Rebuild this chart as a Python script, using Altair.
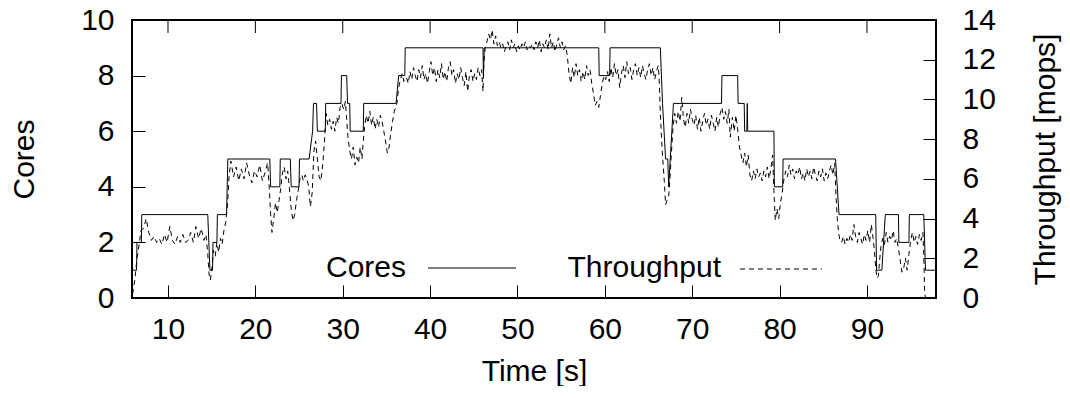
import altair as alt
import pandas as pd

# ---- data ----
cores_time = [5.9, 6.4, 6.45, 6.95, 7.0, 14.55, 14.8, 15.1, 15.15, 15.6, 15.65, 16.7, 16.85,
              21.65, 21.75, 22.8, 22.85, 24.0, 24.1, 25.0, 25.05, 26.15, 26.55, 26.65, 27.0, 27.1,
              28.0, 28.05, 29.8, 29.85, 30.45, 30.55, 30.8, 30.85, 32.35, 32.4, 36.1, 36.4, 37.1,
              37.15, 46.05, 46.1, 46.2, 59.3, 59.35, 60.55, 60.6, 66.35, 66.6, 66.95, 67.2, 67.3,
              67.85, 73.35, 73.4, 75.2, 75.25, 75.95, 76.0, 76.25, 76.3, 76.35, 79.35, 79.4, 80.35,
              80.4, 86.4, 86.8, 91.0, 91.1, 91.7, 92.1, 93.6, 93.65, 94.8, 94.85, 96.5, 96.7, 97.9]
cores_value = [1, 1, 2, 2, 3, 3, 1, 1, 2, 2, 3, 3, 5,
               5, 4, 4, 5, 5, 4, 4, 5, 5, 6, 7, 7, 6,
               6, 7, 7, 8, 8, 7, 7, 6, 6, 7, 7, 8, 8,
               9, 9, 8, 9, 9, 8, 8, 9, 9, 7, 5, 5, 4,
               7, 7, 8, 8, 7, 7, 6, 6, 7, 6, 6, 4, 4,
               5, 5, 3, 3, 1, 1, 3, 3, 2, 2, 3, 3, 1, 1]

tput_time = [5.95, 6.2, 6.45, 6.7, 6.9, 7.2, 7.5, 7.8, 8.1, 8.4, 8.7, 9.0, 9.3, 9.6, 9.9, 10.2,
             10.5, 10.8, 11.1, 11.4, 11.7, 12.0, 12.3, 12.6, 12.9, 13.2, 13.5, 13.8, 14.1, 14.35,
             14.55, 14.7, 14.85, 15.0, 15.2, 15.4, 15.6, 15.8, 16.0, 16.2, 16.4, 16.6, 16.8, 17.0,
             17.2, 17.5, 17.8, 18.1, 18.4, 18.7, 19.0, 19.3, 19.6, 19.9, 20.2, 20.5, 20.8, 21.1,
             21.4, 21.6, 21.75, 21.9, 22.1, 22.3, 22.5, 22.7, 22.9, 23.1, 23.3, 23.5, 23.7, 23.9,
             24.1, 24.3, 24.5, 24.7, 24.9, 25.1, 25.3, 25.5, 25.7, 25.9, 26.1, 26.3, 26.5, 26.7,
             26.9, 27.1, 27.3, 27.5, 27.7, 27.9, 28.1, 28.3, 28.5, 28.7, 28.9, 29.1, 29.3, 29.5,
             29.7, 29.9, 30.1, 30.3, 30.45, 30.6, 30.8, 31.0, 31.2, 31.4, 31.6, 31.8, 32.0, 32.2,
             32.35, 32.5, 32.7, 32.9, 33.1, 33.3, 33.5, 33.7, 33.9, 34.1, 34.3, 34.5, 34.7, 34.9,
             35.1, 35.3, 35.5, 35.7, 35.9, 36.2, 36.4, 36.6, 36.8, 37.0, 37.3, 37.5, 37.7, 37.9,
             38.1, 38.3, 38.5, 38.7, 38.9, 39.1, 39.3, 39.5, 39.7, 39.9, 40.1, 40.3, 40.5, 40.7,
             40.9, 41.1, 41.3, 41.5, 41.7, 41.9, 42.1, 42.3, 42.5, 42.7, 42.9, 43.1, 43.3, 43.5,
             43.7, 43.9, 44.1, 44.3, 44.5, 44.7, 44.9, 45.1, 45.3, 45.5, 45.7, 45.9, 46.05, 46.15,
             46.3, 46.5, 46.7, 46.9, 47.1, 47.3, 47.5, 47.7, 47.9, 48.1, 48.3, 48.5, 48.7, 48.9,
             49.1, 49.3, 49.5, 49.7, 49.9, 50.1, 50.3, 50.5, 50.7, 50.9, 51.1, 51.3, 51.5, 51.7,
             51.9, 52.1, 52.3, 52.5, 52.7, 52.9, 53.1, 53.3, 53.5, 53.7, 53.9, 54.1, 54.3, 54.5,
             54.7, 54.9, 55.1, 55.3, 55.5, 55.7, 55.9, 56.1, 56.3, 56.5, 56.7, 56.9, 57.1, 57.3,
             57.5, 57.7, 57.9, 58.1, 58.3, 58.5, 58.7, 58.9, 59.1, 59.3, 59.5, 59.7, 59.9, 60.1,
             60.3, 60.5, 60.7, 60.9, 61.1, 61.3, 61.5, 61.7, 61.9, 62.1, 62.3, 62.5, 62.7, 62.9,
             63.1, 63.3, 63.5, 63.7, 63.9, 64.1, 64.3, 64.5, 64.7, 64.9, 65.1, 65.3, 65.5, 65.7,
             65.9, 66.1, 66.2, 66.35, 66.55, 66.8, 66.95, 67.1, 67.3, 67.45, 67.6, 67.8, 68.0,
             68.2, 68.4, 68.6, 68.8, 69.0, 69.2, 69.4, 69.6, 69.8, 70.0, 70.2, 70.4, 70.6, 70.8,
             71.0, 71.2, 71.4, 71.6, 71.8, 72.0, 72.2, 72.4, 72.6, 72.8, 73.0, 73.2, 73.4, 73.6,
             73.8, 74.0, 74.2, 74.35, 74.6, 74.8, 75.0, 75.2, 75.4, 75.6, 75.8, 76.0, 76.2, 76.4,
             76.6, 76.8, 77.0, 77.2, 77.4, 77.6, 77.8, 78.0, 78.2, 78.4, 78.6, 78.8, 79.0, 79.2,
             79.35, 79.5, 79.7, 79.9, 80.1, 80.3, 80.5, 80.7, 80.9, 81.1, 81.3, 81.5, 81.7, 81.9,
             82.1, 82.3, 82.5, 82.7, 82.9, 83.1, 83.3, 83.5, 83.7, 83.9, 84.1, 84.3, 84.5, 84.7,
             84.9, 85.1, 85.3, 85.5, 85.7, 85.9, 86.1, 86.3, 86.45, 86.6, 86.75, 86.9, 87.1, 87.3,
             87.5, 87.7, 87.9, 88.1, 88.3, 88.5, 88.7, 88.9, 89.1, 89.3, 89.5, 89.7, 89.9, 90.1,
             90.3, 90.5, 90.7, 90.85, 91.0, 91.15, 91.3, 91.45, 91.6, 91.8, 92.0, 92.2, 92.4, 92.6,
             92.8, 93.0, 93.2, 93.4, 93.6, 93.8, 94.0, 94.2, 94.4, 94.6, 94.8, 95.0, 95.2, 95.4,
             95.6, 95.8, 96.0, 96.2, 96.4, 96.5, 96.6, 96.7, 97.9]
tput_value = [0.2, 0.9, 2.0, 2.7, 3.4, 3.5, 4.0, 3.3, 2.9, 3.1, 2.8, 3.0, 2.7, 3.2, 2.8, 3.6,
              2.9, 2.7, 3.1, 2.8, 3.2, 2.8, 2.9, 3.3, 2.8, 3.6, 3.0, 3.5, 2.9, 3.2,
              2.2, 1.2, 0.9, 1.4, 2.4, 2.1, 2.8, 2.3, 3.0, 2.7, 3.4, 3.8, 4.6, 6.2,
              6.9, 6.1, 6.6, 5.9, 6.5, 6.0, 6.8, 6.2, 5.8, 6.4, 6.1, 6.7, 5.9, 6.3,
              6.8, 5.5, 4.2, 3.3, 4.0, 4.8, 4.3, 4.9, 5.5, 6.3, 6.6, 6.0, 6.4, 5.5,
              4.5, 3.9, 4.2, 4.9, 5.4, 6.0, 6.2, 5.9, 6.2, 6.0, 5.6, 4.6, 5.3, 7.4,
              7.9, 7.0, 6.1, 5.9, 6.7, 7.8, 9.3, 8.7, 9.0, 8.5, 8.9, 8.4, 9.1, 8.8,
              9.6, 9.8, 9.5, 9.9, 9.0, 8.1, 7.4, 7.0, 7.6, 6.7, 7.1, 6.8, 7.6, 7.0,
              7.9, 8.6, 9.2, 8.8, 9.4, 8.7, 9.1, 8.5, 9.0, 8.6, 9.2, 8.9, 8.4, 7.9,
              7.3, 7.6, 8.3, 8.9, 9.4, 9.8, 10.6, 11.0, 11.3, 10.9, 11.1, 10.8, 11.4, 11.0,
              11.6, 11.2, 10.9, 11.5, 11.1, 11.7, 11.0, 11.3, 10.8, 11.4, 11.9, 11.2, 11.6, 10.9,
              11.5, 11.1, 11.8, 11.0, 11.4, 10.9, 11.6, 11.9, 11.2, 11.5, 10.8, 11.3, 11.0, 11.6,
              11.1, 10.7, 11.4, 10.4, 11.2, 11.5, 10.9, 11.3, 11.0, 11.6, 11.2, 11.5, 10.4, 11.8,
              12.6, 12.9, 13.3, 13.0, 13.5, 12.8, 13.2, 12.7, 12.9, 12.6, 12.8, 12.4, 12.7, 12.9,
              12.5, 13.0, 12.6, 12.8, 12.4, 12.7, 12.5, 12.8, 12.6, 12.9, 12.5, 12.7, 12.6, 12.8,
              12.5, 12.9, 12.6, 13.0, 12.4, 12.8, 12.6, 13.0, 12.5, 13.3, 12.6, 12.9, 12.4, 12.8,
              13.1, 12.6, 12.9, 12.5, 12.7, 12.2, 11.3, 10.8, 11.6, 11.1, 11.8, 11.2, 11.5, 10.9,
              11.4, 11.0, 11.7, 11.2, 11.5, 10.8, 10.3, 9.7, 9.9, 9.6, 10.2, 10.8, 11.2, 11.0,
              11.4, 10.9, 11.6, 11.1, 11.8, 11.2, 11.5, 10.6, 11.3, 11.7, 11.1, 11.9, 11.3, 11.6,
              11.0, 11.5, 11.8, 11.2, 11.6, 11.1, 11.7, 11.3, 11.0, 11.5, 11.8, 11.2, 11.6, 11.0,
              11.4, 11.7, 11.2, 9.3, 7.5, 5.9, 4.7, 4.9, 5.1, 6.0, 7.2, 8.6, 9.3,
              8.8, 9.4, 8.9, 10.1, 9.0, 8.6, 9.3, 8.8, 9.5, 9.0, 8.7, 9.2, 8.5, 9.1,
              8.4, 8.9, 9.3, 8.7, 9.0, 8.5, 9.2, 8.8, 8.4, 9.1, 8.6, 9.3, 9.6, 9.0,
              9.4, 8.8, 9.5, 8.1, 9.1, 8.4, 9.2, 8.5, 7.6, 7.2, 6.8, 7.3, 6.6, 7.2,
              6.2, 5.9, 6.4, 6.0, 6.5, 6.1, 6.3, 5.9, 6.4, 6.1, 6.6, 6.0, 6.5, 7.2,
              5.4, 3.9, 4.5, 4.0, 4.8, 5.3, 6.0, 6.4, 6.1, 6.7, 6.2, 6.5, 6.0, 6.4,
              6.2, 6.6, 6.0, 6.3, 5.9, 6.5, 6.1, 6.4, 6.0, 6.6, 6.2, 5.9, 6.4, 6.1,
              6.5, 5.9, 6.3, 6.0, 6.4, 6.7, 6.2, 6.8, 5.2, 4.0, 3.3, 2.9, 2.8, 3.1,
              2.7, 3.0, 2.8, 3.2, 2.9, 3.7, 3.1, 2.8, 3.3, 3.0, 2.7, 3.2, 2.9, 3.4,
              2.8, 3.7, 3.0, 2.4, 1.5, 1.0, 1.1, 1.9, 2.6, 3.0, 2.7, 3.3, 2.8, 3.1,
              2.9, 3.4, 2.8, 3.0, 2.5, 1.9, 1.3, 1.5, 2.0, 1.4, 2.2, 2.9, 3.3, 2.8,
              3.1, 2.7, 3.2, 2.9, 3.3, 2.2, 0.3, 0.0, 0.0]

x_ticks = [10, 20, 30, 40, 50, 60, 70, 80, 90]
cores_ticks = [0, 2, 4, 6, 8, 10]
tput_ticks = [0, 2, 4, 6, 8, 10, 12, 14]
legend_labels = ["Cores", "Throughput"]

FONT = "Liberation Sans"
FS = 30
X_DOMAIN = [5.88, 97.9]

cores_df = pd.DataFrame({"t": cores_time, "cores": cores_value})
tput_df = pd.DataFrame({"t": tput_time, "mops": tput_value})
tick_df = pd.DataFrame({"t": x_ticks})
leg_cores = pd.DataFrame({"label": [legend_labels[0]]})
leg_tput = pd.DataFrame({"label": [legend_labels[1]]})

xenc = alt.X("t:Q",
             scale=alt.Scale(domain=X_DOMAIN, nice=False, zero=False),
             axis=alt.Axis(values=x_ticks, title="Time [s]", orient="bottom",
                           labelPadding=16, titlePadding=12))

cores_line = alt.Chart(cores_df).mark_line(color="black", strokeWidth=1).encode(
    x=xenc,
    y=alt.Y("cores:Q", scale=alt.Scale(domain=[0, 10], nice=False),
            axis=alt.Axis(orient="left", values=cores_ticks, title="Cores",
                          labelPadding=18, titlePadding=41)),
)

tput_line = alt.Chart(tput_df).mark_line(color="black", strokeWidth=1, strokeDash=[5, 4]).encode(
    x=xenc,
    y=alt.Y("mops:Q", scale=alt.Scale(domain=[0, 14], nice=False),
            axis=alt.Axis(orient="right", values=tput_ticks, title="Throughput [mops]",
                          labelPadding=26, titlePadding=35, titleAngle=270,
                          titleBaseline="top")),
)

top_ticks = alt.Chart(tick_df).mark_rule(color="black", strokeWidth=1).encode(
    x=xenc, y=alt.value(0), y2=alt.value(13))

cores_text = alt.Chart(leg_cores).mark_text(
    align="right", baseline="middle", font=FONT, fontSize=FS, color="black"
).encode(text="label:N", x=alt.value(274), y=alt.value(248))
cores_sample = alt.Chart(leg_cores).mark_rule(color="black", strokeWidth=1).encode(
    x=alt.value(296), x2=alt.value(384), y=alt.value(248))
tput_text = alt.Chart(leg_tput).mark_text(
    align="right", baseline="middle", font=FONT, fontSize=FS, color="black"
).encode(text="label:N", x=alt.value(589), y=alt.value(248))
tput_sample = alt.Chart(leg_tput).mark_rule(color="black", strokeWidth=1, strokeDash=[5, 4]).encode(
    x=alt.value(608), x2=alt.value(690), y=alt.value(249))

chart = alt.layer(
    cores_line, tput_line, top_ticks, cores_text, cores_sample, tput_text, tput_sample
).resolve_scale(y="independent").properties(
    width=804, height=278,
    autosize=alt.AutoSizeParams(type="none"),
    padding={"left": 124, "top": 12, "right": 126, "bottom": 88},
).configure_axis(
    labelFont=FONT, labelFontSize=FS, titleFont=FONT, titleFontSize=FS,
    titleFontWeight="normal", labelColor="black", titleColor="black",
    tickColor="black", tickSize=13, tickWidth=1, domain=False, grid=False,
    offset=-13, labelFlush=False, labelOverlap=False,
).configure_view(stroke="black", strokeWidth=2)

chart.save("out.html", embed_options={"renderer": "svg", "actions": False})
